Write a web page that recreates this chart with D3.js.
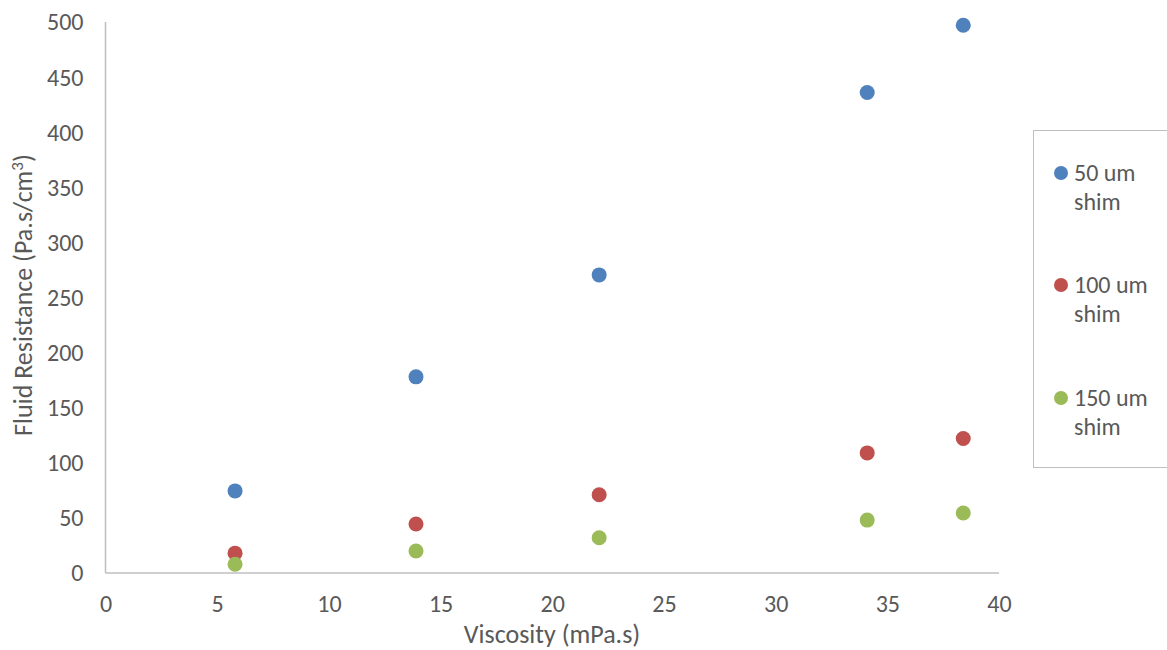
<!DOCTYPE html>
<html><head><meta charset="utf-8">
<script src="https://cdn.jsdelivr.net/npm/d3@7/dist/d3.min.js"></script>
<style>body{margin:0;background:#fff}svg{display:block;font-family:Carlito,Calibri,"Liberation Sans",sans-serif}</style>
</head><body>
<svg id="c" width="1167" height="650"></svg>
<script>
const viscosity = [5.8, 13.9, 22.1, 34.1, 38.4];
const shim50 = [74.5, 178, 270.5, 436, 497];
const shim100 = [18, 44.5, 71, 109, 122];
const shim150 = [8, 20, 32, 48, 54.5];
const seriesNames = ["50 um shim", "100 um shim", "150 um shim"];
const seriesColors = ["#4f81bd", "#c0504d", "#9bbb59"];
const xTicks = [0,5,10,15,20,25,30,35,40];
const yTicks = [0,50,100,150,200,250,300,350,400,450,500];

const svg = d3.select("#c");
const x = d3.scaleLinear().domain([0,40]).range([105.5,999]);
const y = d3.scaleLinear().domain([0,500]).range([573,22]);
const textColor = "#595959";
const ff = "Carlito,Calibri,'Liberation Sans',sans-serif";

svg.append("line").attr("x1",x(0)).attr("x2",x(0)).attr("y1",y(500)).attr("y2",y(0)).attr("stroke","#bfbfbf").attr("stroke-width",1.5);
svg.append("line").attr("x1",x(0)).attr("x2",x(40)).attr("y1",y(0)).attr("y2",y(0)).attr("stroke","#bfbfbf").attr("stroke-width",1.5);

const yAx = svg.append("g").attr("transform",`translate(${x(0)},0)`)
  .call(d3.axisLeft(y).tickValues(yTicks).tickSize(0).tickPadding(22));
const xAx = svg.append("g").attr("transform",`translate(0,${y(0)})`)
  .call(d3.axisBottom(x).tickValues(xTicks).tickSize(0));
[yAx,xAx].forEach(g=>{
  g.select(".domain").remove();
  g.selectAll("text").attr("fill",textColor).style("font-size","24px").style("font-family",ff);
});
yAx.selectAll("text").attr("dy","0.33em");
xAx.selectAll("text").attr("y",39).attr("dy",0);

const series = [shim50, shim100, shim150];
series.forEach((vals,i)=>{
  svg.append("g").selectAll("circle").data(vals).join("circle")
    .attr("cx",(d,j)=>x(viscosity[j])).attr("cy",d=>y(d)).attr("r",7.5)
    .attr("fill",seriesColors[i]);
});

svg.append("text").attr("x",552).attr("y",643).attr("text-anchor","middle")
  .attr("fill",textColor).style("font-size","26px").text("Viscosity (mPa.s)");
const yt = svg.append("text").attr("transform","translate(32,295) rotate(-90)").attr("text-anchor","middle")
  .attr("fill",textColor).style("font-size","26px");
yt.append("tspan").text("Fluid Resistance (Pa.s/cm");
yt.append("tspan").attr("dy",-9).style("font-size","17px").text("3");
yt.append("tspan").attr("dy",9).text(")");

svg.append("rect").attr("x",1033.5).attr("y",130.5).attr("width",140).attr("height",337)
  .attr("fill","#fff").attr("stroke","#bfbfbf").attr("stroke-width",1);
const legY = [173, 285, 398];
seriesNames.forEach((n,i)=>{
  const g = svg.append("g");
  g.append("circle").attr("cx",1061).attr("cy",legY[i]).attr("r",7).attr("fill",seriesColors[i]);
  const parts = n.split(" ");
  g.append("text").attr("x",1074).attr("y",legY[i]+8).attr("fill",textColor).style("font-size","24px").text(parts[0]+" "+parts[1]);
  g.append("text").attr("x",1074).attr("y",legY[i]+37).attr("fill",textColor).style("font-size","24px").text(parts[2]);
});
</script>
</body></html>
